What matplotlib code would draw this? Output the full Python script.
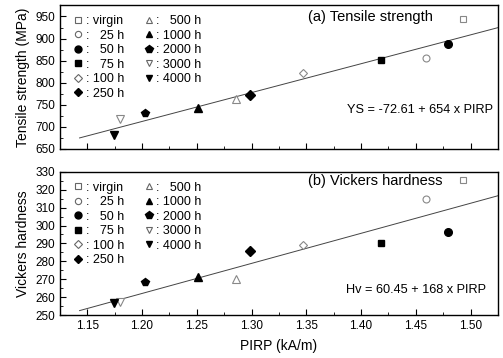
import matplotlib
matplotlib.use("Agg")
import matplotlib.pyplot as plt
from matplotlib.ticker import MultipleLocator
from matplotlib.lines import Line2D

plt.rcParams["font.family"] = ["Liberation Sans", "DejaVu Sans"]

# aging time labels and PIRP values (kA/m)
labels = ["virgin", "25 h", "50 h", "75 h", "100 h", "250 h",
          "500 h", "1000 h", "2000 h", "3000 h", "4000 h"]
legend_text = [": virgin", ":   25 h", ":   50 h", ":   75 h", ": 100 h", ": 250 h",
               ":   500 h", ": 1000 h", ": 2000 h", ": 3000 h", ": 4000 h"]
pirp = [1.493, 1.459, 1.479, 1.418, 1.347, 1.299, 1.286, 1.251, 1.203, 1.180, 1.174]
tensile = [945, 857, 887, 851, 823, 773, 763, 742, 731, 717, 681]
hardness = [325.3, 314.6, 296.4, 290.1, 289.0, 285.8, 270.4, 271.4, 268.2, 257.5, 256.8]

markers = ["s", "o", "o", "s", "D", "D", "^", "^", "p", "v", "v"]
filled = [False, False, True, True, False, True, False, True, True, False, True]
sizes = [4.5, 5, 5.5, 4.5, 4.5, 5, 5.5, 5.5, 6, 5.5, 5.5]

# linear fits printed on the figure
fit_x = [1.143, 1.525]
ys_fit = (-72.61, 654)
hv_fit = (60.45, 168)

fig = plt.figure(figsize=(5.03, 3.58), dpi=100)
ax1 = fig.add_axes([0.119, 0.584, 0.871, 0.402])
ax2 = fig.add_axes([0.119, 0.120, 0.871, 0.400])


def draw(ax, yvals, fit, ylim, major, minor):
    ax.plot(fit_x, [fit[0] + fit[1] * x for x in fit_x], color="#444444", lw=0.7, zorder=1)
    for x, y, m, f, s in zip(pirp, yvals, markers, filled, sizes):
        if f:
            ax.plot(x, y, m, ms=s, color="black", mec="black", zorder=3)
        else:
            ax.plot(x, y, m, ms=s, mfc="white", mec="#888888", mew=0.8, zorder=3)
    ax.set_xlim(1.125, 1.525)
    ax.set_ylim(*ylim)
    ax.xaxis.set_major_locator(MultipleLocator(0.05))
    ax.xaxis.set_minor_locator(MultipleLocator(0.025))
    ax.yaxis.set_major_locator(MultipleLocator(major))
    ax.yaxis.set_minor_locator(MultipleLocator(minor))
    ax.tick_params(which="both", direction="in", top=False, right=False, labelsize=8.5)
    ax.tick_params(which="major", length=4, width=0.8)
    ax.tick_params(which="minor", length=2, width=0.6)
    for sp in ax.spines.values():
        sp.set_linewidth(1.0)

    handles = []
    for m, f, s in zip(markers, filled, sizes):
        if f:
            handles.append(Line2D([], [], ls="", marker=m, ms=s - 0.5, color="black"))
        else:
            handles.append(Line2D([], [], ls="", marker=m, ms=s - 0.5, mfc="white",
                                  mec="#666666", mew=0.8))
    ax.legend(handles, legend_text, ncol=2, loc="upper left", bbox_to_anchor=(0.03, 0.93),
              frameon=False, fontsize=9, handlelength=0.8, handletextpad=0.2,
              labelspacing=0.2, columnspacing=1.6, borderaxespad=0, borderpad=0)


draw(ax1, tensile, ys_fit, (650, 976), 50, 25)
draw(ax2, hardness, hv_fit, (250, 330), 10, 5)
ax1.tick_params(labelbottom=False)

ax1.text(0.708, 0.917, "(a) Tensile strength", transform=ax1.transAxes,
         ha="center", va="center", fontsize=10.5)
ax1.text(0.822, 0.271, "YS = -72.61 + 654 x PIRP", transform=ax1.transAxes,
         ha="center", va="center", fontsize=9.2)
ax2.text(0.72, 0.937, "(b) Vickers hardness", transform=ax2.transAxes,
         ha="center", va="center", fontsize=10.5)
ax2.text(0.814, 0.175, "Hv = 60.45 + 168 x PIRP", transform=ax2.transAxes,
         ha="center", va="center", fontsize=9.2)

ax1.set_ylabel("Tensile strength (MPa)", fontsize=10, labelpad=4)
ax2.set_ylabel("Vickers hardness", fontsize=10, labelpad=4)
ax2.set_xlabel("PIRP (kA/m)", fontsize=10, labelpad=5)

fig.savefig("out.png", dpi=100)
